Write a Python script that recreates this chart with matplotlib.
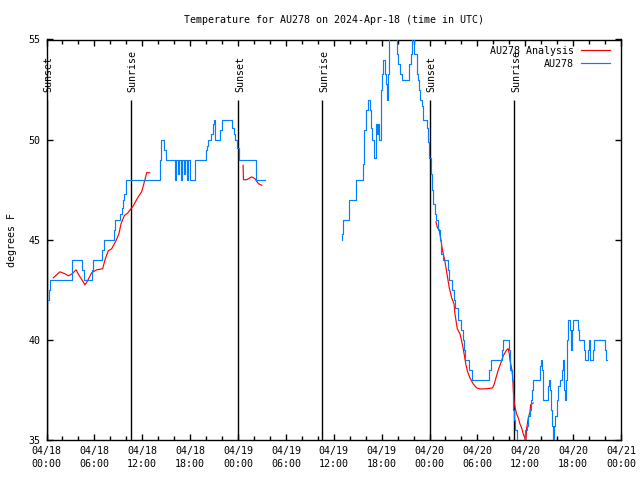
import numpy as np
import matplotlib
matplotlib.use("Agg")
import matplotlib.pyplot as plt

nan = np.nan

# ---- data (hours since 2024-04-18 00:00 UTC, degrees F) ----
obs_hours = [0.2, 0.35, 0.5, 3.23, 4.49, 4.75, 5.7, 5.8, 7.0, 7.15, 8.46, 8.62, 9.25, 9.4, 9.6, 9.75, 9.96,
             14.26, 14.4, 14.76, 14.97, 16.07, 16.22, 16.45, 16.6, 16.82, 16.97, 17.2, 17.35, 17.6, 17.75,
             17.95, 18.65, 20.0, 20.15, 20.28, 20.65, 20.85, 20.95, 21.1, 21.8,
             21.95, 23.25, 23.45, 23.6, 23.9, 24.15, 26.3, 27.35,
             37.0, 37.05, 37.12, 37.95, 38.75, 39.7, 39.79, 40.04, 40.33, 40.5, 40.62, 40.75, 41.04, 41.29,
             41.45, 41.58, 41.7, 41.88, 42.08, 42.21, 42.4, 42.55, 42.63, 42.76, 42.92, 43.96, 44.1, 44.3,
             44.5, 45.47, 45.65, 45.85, 46.05, 46.39, 46.51, 46.68, 46.8, 47.02, 47.14, 47.64, 47.85, 47.97,
             48.18, 48.35, 48.47, 48.68, 48.8, 49.1, 49.3, 49.5, 49.72, 50.3, 50.48, 50.85, 51.07, 51.25,
             51.53, 51.98, 52.16, 52.3, 52.44, 53.0, 53.28, 55.5, 55.7, 57.08, 57.24,
             58.0, 58.15, 58.3, 58.42, 58.5, 58.58, 58.71, 58.92, 59.96, 60.18, 60.38, 60.59, 60.67, 60.88,
             61.0, 61.84, 61.97, 62.09, 62.18, 62.26, 62.88, 63.01, 63.1, 63.22, 63.35, 63.43, 63.6, 63.72,
             63.93, 64.14, 64.35, 64.56, 64.68, 64.77, 64.89, 64.97, 65.06, 65.19, 65.31, 65.6, 65.73, 65.85,
             66.02, 66.64, 66.77, 67.36, 67.48, 67.89, 68.02, 68.11, 68.45, 68.61, 69.99, 70.07, 70.2]
obs_temps = [42.0, 42.5, 43.0, 44.0, 43.5, 43.0, 43.5, 44.0, 44.5, 45.0, 45.5, 46.0, 46.3, 46.6, 47.0, 47.3, 48.0,
             49.0, 50.0, 49.5, 49.0, 48.0, 49.0, 48.3, 49.0, 48.0, 49.0, 48.3, 49.0, 48.0, 49.0,
             48.0, 49.0, 49.5, 49.7, 50.0, 50.3, 50.8, 51.0, 50.0, 50.5,
             51.0, 50.6, 50.3, 50.0, 49.6, 49.0, 48.0, nan,
             45.0, 45.3, 46.0, 47.0, 48.0, 48.8, 50.5, 51.5, 52.0, 51.5, 50.6, 50.0, 49.1, 50.8,
             50.3, 50.8, 50.0, 52.5, 53.3, 54.0, 53.3, 52.8, 52.0, 53.3, 56.0, 54.3, 53.8, 53.3,
             53.0, 53.8, 54.3, 56.0, 54.3, 53.3, 53.0, 52.5, 52.0, 51.7, 51.0, 50.6, 49.9, 49.1,
             48.3, 47.5, 46.8, 46.3, 46.0, 45.5, 45.0, 44.3, 44.0, 43.5, 43.0, 42.5, 42.0, 41.6,
             41.0, 40.5, 40.0, 39.5, 39.0, 38.5, 38.0, 38.5, 39.0, 39.5, 40.0,
             39.5, 38.5, 38.0, 37.0, 36.5, 36.0, 35.5, 34.5, 35.5, 35.7, 36.2, 36.5, 37.0, 37.5,
             38.0, 38.7, 39.0, 38.5, 37.5, 37.0, 37.7, 38.0, 37.5, 36.5, 35.7, 34.5, 35.7, 36.2,
             37.0, 37.7, 38.0, 38.5, 38.7, 39.0, 37.5, 37.0, 38.0, 40.0, 41.0, 40.5, 39.5, 40.5,
             41.0, 40.5, 40.0, 39.5, 39.0, 39.5, 40.0, 39.0, 39.5, 40.0, 39.5, 39.0, nan]

ana_hours = [0.85, 1.69, 2.32, 2.73, 3.23, 3.7, 4.11, 4.45, 4.82, 5.08, 5.66, 6.29, 7.04, 7.33, 7.74, 8.17,
             8.71, 9.08, 9.34, 9.75, 10.21, 10.88, 11.43, 11.93, 12.34, 12.56, 12.93, 13.0,
             24.64, 24.68, 25.1, 25.7, 26.1, 26.55, 26.97, 27.0,
             48.81, 49.0, 49.22, 49.4, 49.62, 49.94, 50.23, 50.48, 50.78, 51.07, 51.19, 51.48, 51.82, 52.16,
             52.36, 52.57, 52.78, 53.07, 53.48, 53.91, 54.32, 54.74, 55.36, 55.91, 56.12, 56.33, 56.62, 56.9,
             57.24, 57.67, 57.87, 58.0, 58.08, 58.3, 58.42, 58.5, 58.58, 58.71, 58.92, 59.13, 59.34, 59.55,
             59.75, 59.96, 60.06, 60.18, 60.38, 60.59, 60.67, 60.8, 61.0]
ana_temps = [43.1, 43.4, 43.3, 43.2, 43.3, 43.5, 43.2, 43.0, 42.75, 42.9, 43.35, 43.5, 43.55, 44.0, 44.45, 44.55,
             44.95, 45.3, 45.8, 46.2, 46.35, 46.7, 47.1, 47.4, 48.0, 48.35, 48.35, nan,
             48.72, 48.0, 48.0, 48.14, 48.06, 47.8, 47.72, nan,
             45.9, 45.6, 45.5, 45.06, 44.5, 43.9, 43.2, 42.6, 42.1, 41.8, 41.3, 40.56, 40.3, 39.7,
             39.25, 38.75, 38.4, 38.1, 37.8, 37.6, 37.55, 37.55, 37.57, 37.6, 37.8, 38.1, 38.5, 38.8,
             39.2, 39.5, 39.56, 39.3, 39.0, 38.56, 38.2, 37.5, 37.0, 36.65, 36.3, 36.1, 35.8, 35.6,
             35.3, 35.1, 34.9, 35.6, 36.1, 36.4, 36.75, 36.8, 36.85]

sunset_hours = [0.05, 24.04, 48.06]
sunrise_hours = [10.59, 34.56, 58.62]

tick_hours = list(range(0, 73, 6))
tick_labels = ["04/18\n00:00", "04/18\n06:00", "04/18\n12:00", "04/18\n18:00",
               "04/19\n00:00", "04/19\n06:00", "04/19\n12:00", "04/19\n18:00",
               "04/20\n00:00", "04/20\n06:00", "04/20\n12:00", "04/20\n18:00",
               "04/21\n00:00"]
y_ticks = [35, 40, 45, 50, 55]

# ---- figure ----
FONT = "DejaVu Sans Mono"
FS = 7.2
plt.rcParams['font.family'] = FONT
plt.rcParams['font.size'] = FS

fig = plt.figure(figsize=(6.4, 4.8), dpi=100)
ax = fig.add_axes([46.5/640, 1-440/480, (621-46.5)/640, (440-39.5)/480])

# sunrise / sunset markers
line_top = 52.0
label_base = 52.37
for h in sunset_hours:
    ax.plot([h, h], [35, line_top], color="black", lw=1.0, zorder=1, solid_capstyle="butt")
    ax.annotate("Sunset", xy=(h, label_base), xytext=(1.2, 0), textcoords="offset points",
                rotation=90, ha="center", va="bottom", fontsize=FS, annotation_clip=False)
for h in sunrise_hours:
    ax.plot([h, h], [35, line_top], color="black", lw=1.0, zorder=1, solid_capstyle="butt")
    ax.annotate("Sunrise", xy=(h, label_base), xytext=(1.2, 0), textcoords="offset points",
                rotation=90, ha="center", va="bottom", fontsize=FS, annotation_clip=False)

ax.plot(ana_hours, ana_temps, color="#ff0000", lw=0.85, label="AU278 Analysis", zorder=2)
ax.plot(obs_hours, obs_temps, color="#0080ff", lw=0.85, drawstyle="steps-post", label="AU278", zorder=3)

ax.set_xlim(0, 72)
ax.set_ylim(35, 55)
ax.set_xticks(tick_hours)
ax.set_xticklabels(tick_labels, linespacing=1.35)
ax.set_xticks(np.arange(0, 73, 2), minor=True)
ax.set_yticks(y_ticks)
ax.tick_params(which="both", direction="in", top=True, right=True, width=1.0, labelsize=FS)
ax.tick_params(which="major", length=4.5, pad=4.5)
ax.tick_params(which="minor", length=3)
for s in ax.spines.values():
    s.set_linewidth(1.0)

ax.set_ylabel("degrees F", fontsize=FS, labelpad=8)
ax.set_title("Temperature for AU278 on 2024-Apr-18 (time in UTC)", fontsize=FS, pad=12)

leg = ax.legend(loc="upper right", bbox_to_anchor=(0.981, 0.985), frameon=False, markerfirst=False,
                handlelength=2.9, handletextpad=0.7, labelspacing=0.3, borderpad=0, borderaxespad=0,
                fontsize=FS)

fig.savefig("out.png", dpi=100)
